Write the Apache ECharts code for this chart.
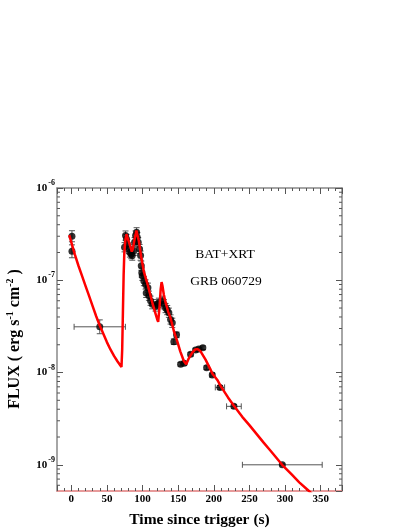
<!DOCTYPE html>
<html><head><meta charset="utf-8">
<script src="https://cdn.jsdelivr.net/npm/echarts@6/dist/echarts.min.js"></script>
<style>html,body{margin:0;padding:0;background:#fff;overflow:hidden}#c{width:409px;height:529px}</style>
</head><body><div id="c"></div>
<script>
// ---- observed data points (time since trigger, flux) ----
const time = [1, 1, 40, 74.8, 76.2, 77.6, 78.6, 80.9, 82.3, 84.2, 85.6, 87.9, 88.9, 90.3, 91.7, 92.6, 94, 95.9, 97.3, 98.3, 99, 99.7, 101.9, 104.3, 105.2, 107.6, 109, 111.3, 113.7, 118.3, 120.7, 123, 127.7, 130, 132.4, 134.7, 137, 139.4, 141.8, 144, 147.8, 153.5, 158.5, 167.5, 174.5, 179, 184.7, 190, 197.9, 208.7, 228.3, 296.2];
const flux = [3.0e-7, 2.06e-7, 3.13e-8, 2.28e-7, 3.05e-7, 2.80e-7, 2.47e-7, 2.18e-7, 2.00e-7, 1.92e-7, 1.85e-7, 2.09e-7, 2.58e-7, 3.05e-7, 3.31e-7, 2.92e-7, 2.58e-7, 2.18e-7, 1.85e-7, 1.44e-7, 1.21e-7, 1.12e-7, 9.8e-8, 9.0e-8, 7.3e-8, 8.3e-8, 6.8e-8, 6.0e-8, 5.5e-8, 5.2e-8, 5.5e-8, 5.7e-8, 6.0e-8, 5.5e-8, 5.0e-8, 4.75e-8, 4.45e-8, 3.76e-8, 3.46e-8, 2.16e-8, 2.56e-8, 1.23e-8, 1.26e-8, 1.58e-8, 1.75e-8, 1.80e-8, 1.86e-8, 1.13e-8, 9.4e-9, 6.9e-9, 4.3e-9, 1.0e-9];
// half-width of vertical error bars, in decades
const fluxErrDex = [0.06, 0.07, 0.075, 0.05, 0.05, 0.05, 0.05, 0.05, 0.05, 0.05, 0.05, 0.05, 0.05, 0.05, 0.05, 0.05, 0.05, 0.05, 0.05, 0.05, 0.05, 0.05, 0.05, 0.05, 0.05, 0.05, 0.05, 0.05, 0.05, 0.05, 0.05, 0.05, 0.05, 0.05, 0.05, 0.05, 0.05, 0.05, 0.05, 0.03, 0.03, 0.02, 0.02, 0.02, 0.02, 0.02, 0.02, 0.02, 0.02, 0.02, 0.02, 0.01];
// half-width of horizontal error bars, seconds
const timeErr = [0, 0, 36, 0, 0, 0, 0, 0, 0, 0, 0, 0, 0, 0, 0, 0, 0, 0, 0, 0, 0, 0, 0, 0, 0, 0, 0, 0, 0, 0, 0, 0, 0, 0, 0, 0, 0, 0, 0, 0, 0, 0, 0, 0, 0, 0, 0, 0, 3, 6.5, 10.3, 56];

// ---- model curve, log10 flux ----
const modelTime = [-2.8, 5, 10, 15, 20, 25, 30, 35, 40, 45, 50, 55, 60, 65, 70.5, 71.5, 72.5, 73.5, 74.5, 76, 77.5, 79, 82, 85, 86.5, 89, 91.5, 93, 95, 98, 102, 106.6, 110, 113.7, 117, 120.7, 122, 124, 125.5, 126.8, 128, 130, 132.4, 136, 139.4, 144, 148.7, 153, 158, 161.4, 163, 165, 169.8, 174, 177, 181.5, 188.5, 195, 198, 205, 210, 220, 228.3, 240, 250, 260, 270, 280, 296, 310, 320, 333.6, 345];
const modelLogFlux = [-6.51, -6.72, -6.84, -6.95, -7.06, -7.17, -7.28, -7.39, -7.49, -7.58, -7.67, -7.75, -7.82, -7.88, -7.94, -7.75, -7.35, -6.95, -6.70, -6.56, -6.50, -6.52, -6.61, -6.69, -6.66, -6.55, -6.46, -6.47, -6.58, -6.74, -6.91, -7.03, -7.13, -7.24, -7.33, -7.425, -7.45, -7.28, -7.10, -7.02, -7.06, -7.16, -7.24, -7.34, -7.41, -7.55, -7.66, -7.77, -7.875, -7.91, -7.89, -7.846, -7.785, -7.75, -7.745, -7.77, -7.86, -7.96, -8.01, -8.08, -8.15, -8.27, -8.36, -8.48, -8.57, -8.665, -8.76, -8.85, -9.0, -9.11, -9.19, -9.284, -9.37];

// ---- axis ranges and log minor tick mantissas ----
const xMin = -20, xMax = 380;
const yMin = 5.2e-10, yMax = 1e-6;
const minorMantissas = [2, 3, 4, 5, 6, 7, 8, 9];
const minorDecades = [1e-10, 1e-9, 1e-8, 1e-7];

const SERIF = 'Liberation Serif';
const points = time.map((t, i) => [t, flux[i]]);
const errData = time.map((t, i) => [t, flux[i], flux[i] / Math.pow(10, fluxErrDex[i]), flux[i] * Math.pow(10, fluxErrDex[i]), timeErr[i]]);
const model = modelTime.map((t, i) => [t, Math.pow(10, modelLogFlux[i])]);
const minorTickValues = [];
minorDecades.forEach(d => minorMantissas.forEach(m => { const v = m * d; if (v > yMin && v < yMax) minorTickValues.push([v]); }));

const chart = echarts.init(document.getElementById('c'), null, {renderer: 'canvas'});
const axisCommonX = {
  type: 'value', min: xMin, max: xMax, splitNumber: 8,
  splitLine: {show: false},
  axisTick: {inside: true, length: 6, lineStyle: {color: '#555'}},
  minorTick: {show: true, splitNumber: 5, length: 3, lineStyle: {color: '#555'}},
  minorSplitLine: {show: false}
};
const axisCommonY = {
  type: 'log', logBase: 10, min: yMin, max: yMax,
  splitLine: {show: false},
  axisTick: {inside: true, length: 6, lineStyle: {color: '#555'}},
  minorTick: {show: false},
  minorSplitLine: {show: false}
};
chart.setOption({
  animation: false,
  backgroundColor: '#fff',
  grid: {left: 57, right: 67, top: 188, bottom: 38, containLabel: false, outerBoundsMode: 'none'},
  xAxis: [
    Object.assign({}, axisCommonX, {
      position: 'bottom',
      axisLine: {onZero: false, lineStyle: {color: '#e07a7a', width: 1.5}},
      axisLabel: {fontFamily: SERIF, fontWeight: 'bold', fontSize: 11, color: '#000', margin: 3, showMinLabel: false, showMaxLabel: false},
      name: 'Time since trigger (s)', nameLocation: 'middle', nameGap: 21,
      nameTextStyle: {fontFamily: SERIF, fontWeight: 'bold', fontSize: 15.5, color: '#000'}
    }),
    Object.assign({}, axisCommonX, {
      position: 'top',
      axisLine: {onZero: false, lineStyle: {color: '#888', width: 1.5}},
      axisLabel: {show: false}
    })
  ],
  yAxis: [
    Object.assign({}, axisCommonY, {
      position: 'left',
      axisLine: {onZero: false, lineStyle: {color: '#888', width: 1.5}},
      axisLabel: {
        margin: 2, showMinLabel: false,
        formatter: v => '{b|10}{s|' + Math.round(Math.log10(v)) + '}',
        rich: {
          b: {fontFamily: SERIF, fontWeight: 'bold', fontSize: 11, color: '#000'},
          s: {fontFamily: SERIF, fontWeight: 'bold', fontSize: 8, color: '#000', padding: [0, 0, 10, 1]}
        }
      }
    }),
    Object.assign({}, axisCommonY, {
      position: 'right',
      axisLine: {onZero: false, lineStyle: {color: '#888', width: 1.5}},
      axisLabel: {show: false}
    })
  ],
  graphic: [
    {type: 'text', x: 225, y: 254, style: {text: 'BAT+XRT', font: '13.5px "Liberation Serif"', fill: '#000', align: 'center', verticalAlign: 'middle'}},
    {type: 'text', x: 226, y: 281, style: {text: 'GRB 060729', font: '13.5px "Liberation Serif"', fill: '#000', align: 'center', verticalAlign: 'middle'}},
    {type: 'text', x: 15, y: 339, rotation: Math.PI / 2,
     style: {
       text: '{b|FLUX ( erg s}{s|-1}{b| cm}{s|-2}{b| )}',
       align: 'center', verticalAlign: 'middle',
       rich: {
         b: {fontFamily: SERIF, fontWeight: 'bold', fontSize: 16, fill: '#000'},
         s: {fontFamily: SERIF, fontWeight: 'bold', fontSize: 10, fill: '#000', padding: [0, 0, 10, 0]}
       }
     }}
  ],
  series: [
    {
      // logarithmic minor ticks (2..9 × 10^k) on left and right frame edges
      type: 'custom', xAxisIndex: 0, yAxisIndex: 0, z: 1, clip: false, silent: true,
      data: minorTickValues,
      renderItem: (params, api) => {
        const v = api.value(0);
        const pL = api.coord([xMin, v]), pR = api.coord([xMax, v]);
        const style = {stroke: '#555', lineWidth: 1};
        return {type: 'group', children: [
          {type: 'line', shape: {x1: pL[0], y1: pL[1], x2: pL[0] + 3, y2: pL[1]}, style},
          {type: 'line', shape: {x1: pR[0] - 3, y1: pR[1], x2: pR[0], y2: pR[1]}, style}
        ]};
      }
    },
    {
      type: 'custom', xAxisIndex: 0, yAxisIndex: 0, z: 2,
      data: errData,
      renderItem: (params, api) => {
        const t = api.value(0), f = api.value(1), lo = api.value(2), hi = api.value(3), te = api.value(4);
        const pLo = api.coord([t, lo]), pHi = api.coord([t, hi]);
        const cap = 3;
        const style = {stroke: '#555', lineWidth: 1, fill: null};
        const children = [
          {type: 'line', shape: {x1: pLo[0], y1: pLo[1], x2: pHi[0], y2: pHi[1]}, style},
          {type: 'line', shape: {x1: pLo[0] - cap, y1: pLo[1], x2: pLo[0] + cap, y2: pLo[1]}, style},
          {type: 'line', shape: {x1: pHi[0] - cap, y1: pHi[1], x2: pHi[0] + cap, y2: pHi[1]}, style}
        ];
        if (te > 0) {
          const pL = api.coord([t - te, f]), pR = api.coord([t + te, f]);
          children.push({type: 'line', shape: {x1: pL[0], y1: pL[1], x2: pR[0], y2: pR[1]}, style});
          children.push({type: 'line', shape: {x1: pL[0], y1: pL[1] - cap, x2: pL[0], y2: pL[1] + cap}, style});
          children.push({type: 'line', shape: {x1: pR[0], y1: pR[1] - cap, x2: pR[0], y2: pR[1] + cap}, style});
        }
        return {type: 'group', children};
      }
    },
    {
      type: 'scatter', xAxisIndex: 0, yAxisIndex: 0, z: 3,
      data: points, symbol: 'circle', symbolSize: 7,
      itemStyle: {color: '#000'}
    },
    {
      type: 'line', xAxisIndex: 0, yAxisIndex: 0, z: 4,
      data: model, showSymbol: false, symbol: 'none', clip: true,
      lineStyle: {color: '#f00', width: 2.5}
    }
  ]
});
</script>
</body></html>
